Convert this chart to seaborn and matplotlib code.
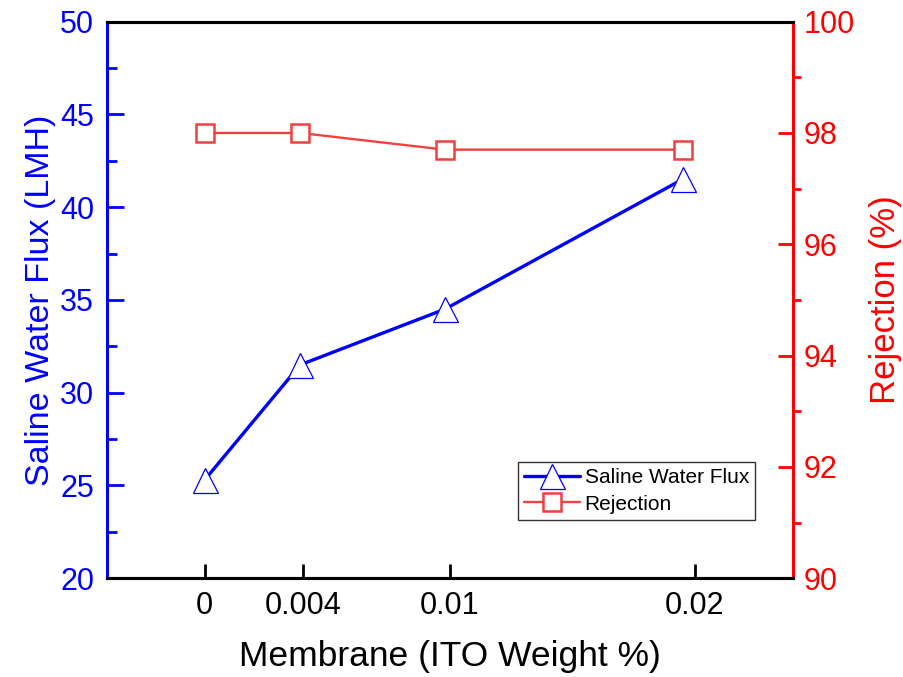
import numpy as np
import pandas as pd
import seaborn as sns
import matplotlib.pyplot as plt
from matplotlib.ticker import MultipleLocator, FixedLocator

# Values
ito_weight = [0, 0.0039, 0.0098, 0.0195]
flux = [25.3, 31.5, 34.5, 41.5]
rejection = [98.0, 98.0, 97.7, 97.7]
xtick_vals = [0, 0.004, 0.01, 0.02]
xtick_labels = ['0', '0.004', '0.01', '0.02']

df = pd.DataFrame({'ITO': ito_weight, 'Flux': flux, 'Rejection': rejection})

sns.set_style("ticks")
plt.rcParams['font.family'] = ['Liberation Sans', 'DejaVu Sans']
plt.rcParams['text.color'] = 'black'
plt.rcParams['axes.labelcolor'] = 'black'

blue = '#0000FF'
red = '#FF0000'
red_line = '#F04040'

fig, ax1 = plt.subplots(figsize=(9.04, 6.77), dpi=100)
fig.subplots_adjust(left=0.118, right=0.877, top=0.968, bottom=0.146)
ax2 = ax1.twinx()

sns.lineplot(data=df, x='ITO', y='Flux', ax=ax1, color=blue, lw=2.4,
             marker='^', markersize=18, markerfacecolor='white',
             markeredgecolor=blue, markeredgewidth=0.9, sort=False,
             label='Saline Water Flux', legend=False, zorder=3)
sns.lineplot(data=df, x='ITO', y='Rejection', ax=ax2, color=red_line, lw=1.7,
             marker='s', markersize=13, markerfacecolor='white',
             markeredgecolor=red_line, markeredgewidth=1.8, sort=False,
             label='Rejection', legend=False, zorder=3)

ax1.set_xlim(-0.004, 0.024)
ax1.set_ylim(20, 50)
ax2.set_ylim(90, 100)

ax1.xaxis.set_major_locator(FixedLocator(xtick_vals))
ax1.set_xticklabels(xtick_labels)
ax1.yaxis.set_major_locator(MultipleLocator(5))
ax1.yaxis.set_minor_locator(MultipleLocator(2.5))
ax2.yaxis.set_major_locator(MultipleLocator(2))
ax2.yaxis.set_minor_locator(MultipleLocator(1))

ax1.tick_params(axis='x', direction='in', length=10, width=2, pad=9,
                labelsize=22, colors='black', top=False)
ax1.tick_params(axis='y', which='major', direction='in', length=12, width=2,
                pad=9, labelsize=22, colors=blue)
ax1.tick_params(axis='y', which='minor', direction='in', length=7, width=2,
                colors=blue)
ax2.tick_params(axis='y', which='major', direction='in', length=11, width=2,
                pad=8, labelsize=22, colors=red)
ax2.tick_params(axis='y', which='minor', direction='out', length=6, width=2,
                colors=red)

for ax in (ax1, ax2):
    for sp in ax.spines.values():
        sp.set_linewidth(2.2)
        sp.set_visible(True)
ax1.spines['left'].set_color(blue)
ax2.spines['left'].set_visible(False)
ax2.spines['right'].set_color(red)
ax1.spines['right'].set_visible(False)
for ax in (ax1, ax2):
    ax.spines['top'].set_color('black')
    ax.spines['bottom'].set_color('black')

ax1.set_xlabel('Membrane (ITO Weight %)', fontsize=25.5, labelpad=14, color='black')
ax1.set_ylabel('Saline Water Flux (LMH)', fontsize=24.5, color=blue, labelpad=3)
ax2.set_ylabel('Rejection (%)', fontsize=25, color=red, labelpad=10)

h1, l1 = ax1.get_legend_handles_labels()
h2, l2 = ax2.get_legend_handles_labels()
leg = ax2.legend(h1 + h2, l1 + l2, loc='upper left',
                 bbox_to_anchor=(518 / 904, 1 - 462 / 677),
                 bbox_transform=fig.transFigure, fontsize=15,
                 frameon=True, fancybox=False, framealpha=1,
                 edgecolor='#333333', handlelength=2.7, handletextpad=0.2,
                 borderpad=0.3, labelspacing=0.35, borderaxespad=0,
                 markerscale=1.0)
leg.get_frame().set_linewidth(1.0)
for t in leg.get_texts():
    t.set_color('black')

fig.savefig('out.png', dpi=100)
